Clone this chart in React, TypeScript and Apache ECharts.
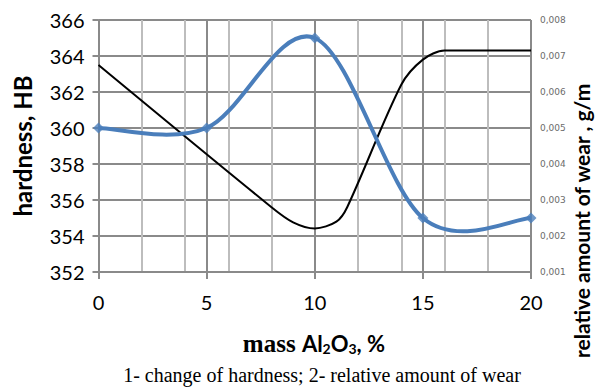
import React, { useEffect, useRef } from "react";
import * as echarts from "echarts";

const hardnessX = [0, 5, 10, 15, 20];
const hardnessY = [360, 360, 365, 355, 355];
const wearX = [0, 8, 9, 10, 11, 11.5, 14, 15, 16, 20];
const wearY = [0.00675, 0.0028, 0.00238, 0.00221, 0.0024, 0.0028, 0.0062, 0.0069, 0.00715, 0.00715];
const leftTitle = "hardness, HB";
const rightTitle = "relative amount of wear , g/m";
const caption = "1- change of hardness; 2- relative amount of wear";

function splinePath(pts: number[][]): string {
  // Catmull-Rom style smoothing (as in spreadsheet smoothed lines)
  let d = `M${pts[0][0]},${pts[0][1]}`;
  for (let i = 0; i < pts.length - 1; i++) {
    const p0 = pts[Math.max(0, i - 1)];
    const p1 = pts[i];
    const p2 = pts[i + 1];
    const p3 = pts[Math.min(pts.length - 1, i + 2)];
    const c1x = p1[0] + (p2[0] - p0[0]) / 6;
    const c1y = p1[1] + (p2[1] - p0[1]) / 6;
    const c2x = p2[0] - (p3[0] - p1[0]) / 6;
    const c2y = p2[1] - (p3[1] - p1[1]) / 6;
    d += ` C${c1x},${c1y} ${c2x},${c2y} ${p2[0]},${p2[1]}`;
  }
  return d;
}

export default function App() {
  const ref = useRef<HTMLDivElement>(null);
  useEffect(() => {
    const chart = echarts.init(ref.current!, null, { renderer: "svg" });
    const sans = "Lato";
    const hardnessData = hardnessX.map((x, i) => [x, hardnessY[i]]);
    chart.setOption({
      animation: false,
      grid: { left: 98.5, right: 64, top: 20, bottom: 115 },
      xAxis: [
        {
          type: "value", min: 0, max: 20, interval: 5,
          axisLine: { show: true, lineStyle: { color: "#8a8a8a", width: 2 } },
          axisTick: { show: true, length: 7, lineStyle: { color: "#8a8a8a", width: 2 } },
          axisLabel: { color: "#000", fontSize: 20, fontFamily: sans, margin: 20 },
          splitLine: { show: true, lineStyle: { color: "#8a8a8a", width: 2 } },
          z: 3,
        },
        {
          type: "value", min: 0, max: 20, interval: 2, position: "bottom",
          axisLine: { show: false }, axisTick: { show: false }, axisLabel: { show: false },
          splitLine: { show: true, lineStyle: { color: "#bdbdbd", width: 2 } },
          z: 2,
        },
      ],
      yAxis: [
        {
          type: "value", min: 352, max: 366, interval: 2,
          axisLine: { show: true, lineStyle: { color: "#8a8a8a", width: 2 } },
          axisTick: { show: true, length: 6, lineStyle: { color: "#8a8a8a", width: 2 } },
          axisLabel: { color: "#000", fontSize: 20, fontFamily: sans, margin: 14 },
          splitLine: { show: true, lineStyle: { color: "#8a8a8a", width: 2 } },
        },
        {
          type: "value", min: 0.001, max: 0.008, interval: 0.001, position: "right",
          axisLine: { show: false }, axisTick: { show: false },
          axisLabel: {
            color: "#6b6b6b", fontSize: 9, fontFamily: "DejaVu Sans", margin: 9,
            formatter: (v: number) => v.toFixed(3).replace(".", ","),
          },
          splitLine: { show: false },
        },
      ],
      series: [
        {
          type: "line", xAxisIndex: 0, yAxisIndex: 1, z: 3,
          data: wearX.map((x, i) => [x, wearY[i]]),
          smooth: 0.3, showSymbol: false,
          lineStyle: { color: "#000", width: 2 },
        },
        {
          type: "custom", xAxisIndex: 0, yAxisIndex: 0, z: 4,
          data: hardnessData,
          renderItem: (params: any, api: any) => {
            if (params.dataIndex !== 0) return null;
            const pts = hardnessData.map((p) => api.coord(p));
            return {
              type: "path",
              shape: { pathData: splinePath(pts) },
              style: { fill: "none", stroke: "#4a7ebb", lineWidth: 4 },
            };
          },
        },
        {
          type: "scatter", xAxisIndex: 0, yAxisIndex: 0, z: 5,
          data: hardnessData,
          symbol: "diamond", symbolSize: 11,
          itemStyle: { color: "#4a7ebb" },
        },
      ],
      graphic: [
        {
          type: "text", x: 22, y: 146, rotation: Math.PI / 2,
          style: { text: leftTitle, font: `bold 24px ${sans}`, fill: "#000", textAlign: "center", textVerticalAlign: "middle" },
        },
        {
          type: "text", x: 581, y: 358, rotation: Math.PI / 2,
          style: { text: rightTitle, font: `bold 21px ${sans}`, fill: "#000", textAlign: "left", textVerticalAlign: "middle" },
        },
        {
          type: "text", x: 314, y: 343,
          style: {
            text: "{m|mass }{a|Al}{s|2}{a|O}{s|3}{a|, %}",
            textAlign: "center", textVerticalAlign: "middle", fill: "#000",
            rich: {
              m: { font: "bold 25px 'Liberation Serif'", fill: "#000" },
              a: { font: `bold 22px ${sans}`, fill: "#000" },
              s: { font: `bold 14px ${sans}`, fill: "#000", padding: [10, 0, 0, 0] },
            },
          },
        },
        {
          type: "text", x: 322, y: 375,
          style: { text: caption, font: "20px 'Liberation Serif'", fill: "#000", textAlign: "center", textVerticalAlign: "middle" },
        },
      ],
    });
    return () => chart.dispose();
  }, []);
  return <div ref={ref} style={{ width: 595, height: 387, position: "absolute", left: 0, top: 0 }} />;
}
